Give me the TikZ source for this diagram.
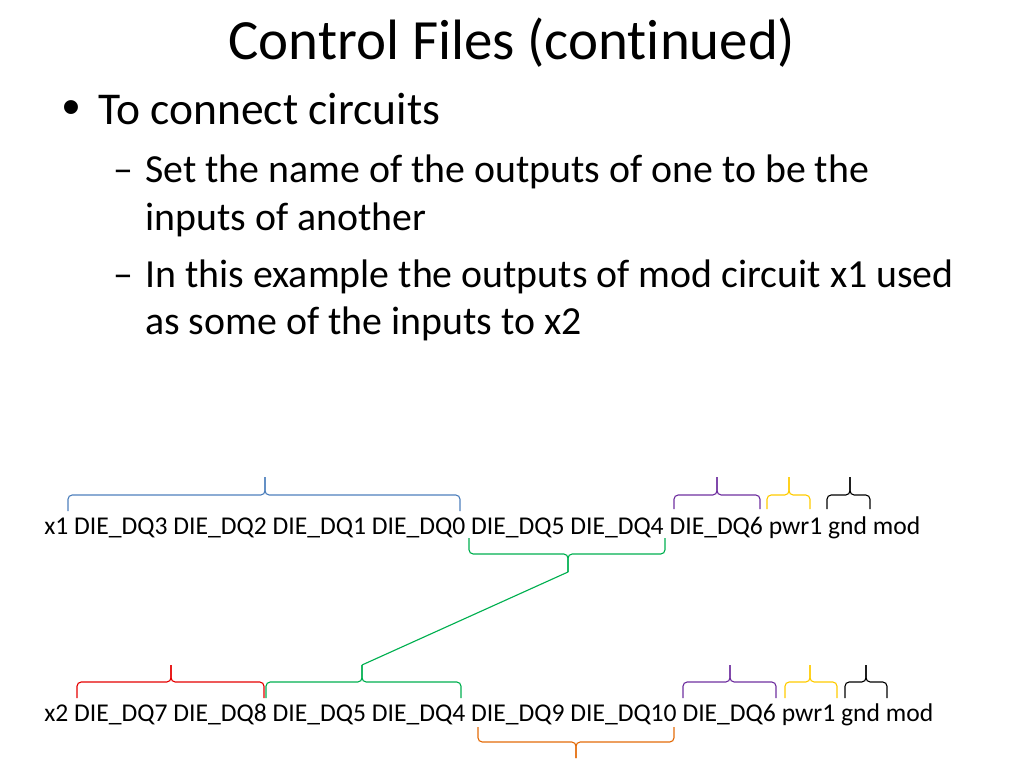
\documentclass[tikz,border=0pt]{standalone}
\usepackage{fontspec}
\setmainfont{Carlito}[Ligatures=CommonOff]
\newfontfamily\dotfont{Liberation Sans}
\usetikzlibrary{positioning}
\definecolor{bblue}{RGB}{79,129,189}
\definecolor{bgreen}{RGB}{0,176,80}
\definecolor{bred}{RGB}{230,0,0}
\definecolor{bpurple}{RGB}{112,48,160}
\definecolor{byellow}{RGB}{255,204,0}
\definecolor{borange}{RGB}{228,108,10}
\tikzset{%
  title/.style={font=\fontsize{40bp}{48bp}\selectfont,inner sep=0,anchor=base},
  lvlone/.style={font=\fontsize{32bp}{38bp}\selectfont,inner sep=0,anchor=base west},
  lvltwo/.style={font=\fontsize{28bp}{34bp}\selectfont,inner sep=0,anchor=base west},
  word/.style={font=\fontsize{18bp}{22bp}\selectfont,inner sep=0},
  brc/.style={line width=.8pt,rounded corners=3pt}
}
\newcommand{\wgap}{3.7bp}
% color, left, right, tip x, leg end y, bar y, tip y, tip name
\newcommand{\cbrace}[8]{%
  \draw[brc,#1] (#2,#5) |- (#4,#6) -- (#4,#7);
  \draw[brc,#1] (#3,#5) |- (#4,#6) -- (#4,#7);
  \coordinate (#8) at (#4,#7);
}

\begin{document}
\begin{tikzpicture}[x=0.703125bp,y=-0.703125bp]
  \useasboundingbox[fill=white] (0,0) rectangle (1024,768);

  \node[title] (head) at (512,60) {Control Files (continued)};

  \node[lvlone,font=\dotfont\fontsize{36bp}{38bp}\selectfont] (dot) at (62,125) {•};
  \node[lvlone] (conn) at (98,125) {To connect circuits};

  \node[lvltwo] (dasha) at (113,183) {–};
  \node[lvltwo] (seta) at (145,183) {Set the name of the outputs of one to be the};
  \node[lvltwo] (setb) at (145,230) {inputs of another};
  \node[lvltwo] (dashb) at (113,287) {–};
  \node[lvltwo] (exa) at (145,287) {In this example the outputs of mod circuit x1 used};
  \node[lvltwo] (exb) at (145,334) {as some of the inputs to x2};

  % first row
  \node[word,anchor=base west] (x1) at (44,534) {x1};
  \node[word,base right=\wgap of x1] (a3) {DIE\_DQ3};
  \node[word,base right=\wgap of a3] (a2) {DIE\_DQ2};
  \node[word,base right=\wgap of a2] (a1) {DIE\_DQ1};
  \node[word,base right=\wgap of a1] (a0) {DIE\_DQ0};
  \node[word,base right=\wgap of a0] (a5) {DIE\_DQ5};
  \node[word,base right=\wgap of a5] (a4) {DIE\_DQ4};
  \node[word,base right=\wgap of a4] (a6) {DIE\_DQ6};
  \node[word,base right=\wgap of a6] (apwr) {pwr1};
  \node[word,base right=\wgap of apwr] (agnd) {gnd};
  \node[word,base right=\wgap of agnd] (amod) {mod};

  % second row
  \node[word,anchor=base west] (x2) at (44,721) {x2};
  \node[word,base right=\wgap of x2] (b7) {DIE\_DQ7};
  \node[word,base right=\wgap of b7] (b8) {DIE\_DQ8};
  \node[word,base right=\wgap of b8] (b5) {DIE\_DQ5};
  \node[word,base right=\wgap of b5] (b4) {DIE\_DQ4};
  \node[word,base right=\wgap of b4] (b9) {DIE\_DQ9};
  \node[word,base right=\wgap of b9] (b10) {DIE\_DQ10};
  \node[word,base right=\wgap of b10] (b6) {DIE\_DQ6};
  \node[word,base right=\wgap of b6] (bpwr) {pwr1};
  \node[word,base right=\wgap of bpwr] (bgnd) {gnd};
  \node[word,base right=\wgap of bgnd] (bmod) {mod};

  % braces
  \cbrace{bblue}{68}{460}{265}{511}{495}{477}{tipa}
  \cbrace{bgreen}{469}{665}{568}{538}{554}{572}{tipout}
  \cbrace{bpurple}{674}{760}{717}{509}{495}{477}{tipb}
  \cbrace{byellow}{767}{810}{789}{509}{495}{477}{tipc}
  \cbrace{black}{827}{870}{850}{509}{495}{477}{tipd}

  \cbrace{bred}{77}{264}{171}{698}{682}{665}{tipe}
  \cbrace{bgreen}{266}{461}{362}{698}{682}{665}{tipin}
  \cbrace{bpurple}{683}{776}{730}{698}{682}{665}{tipf}
  \cbrace{byellow}{785}{837}{810}{698}{682}{665}{tipg}
  \cbrace{black}{845}{887}{866}{698}{682}{665}{tiph}
  \cbrace{borange}{478}{674}{576}{727}{742}{758}{tipi}

  \draw[line width=.8pt,bgreen] (tipout) -- (tipin);
\end{tikzpicture}
\end{document}
